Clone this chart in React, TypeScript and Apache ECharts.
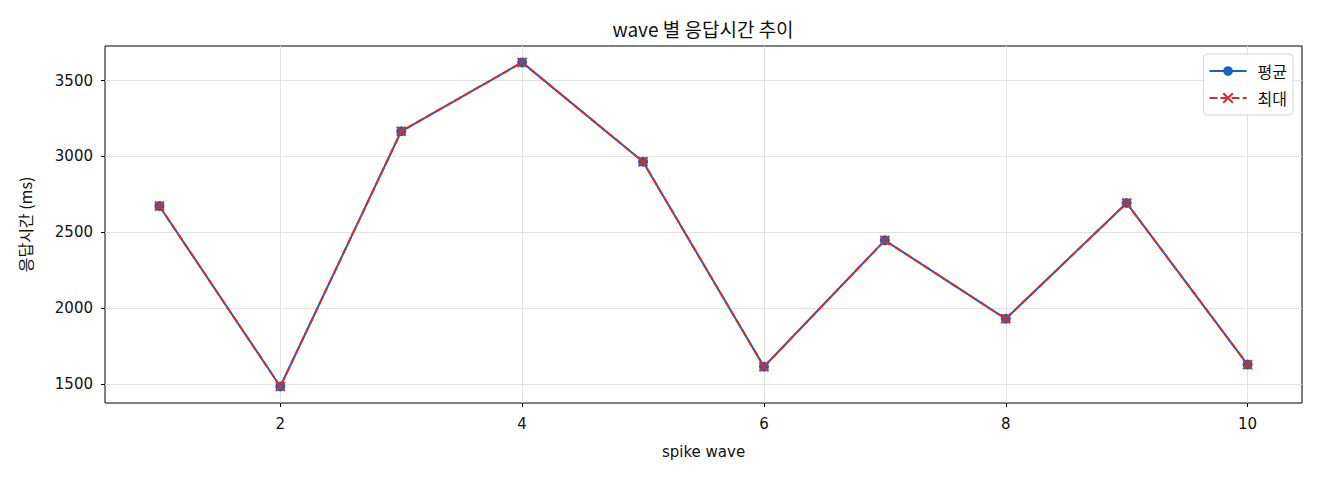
import React, { useEffect, useRef } from "react";
import * as echarts from "echarts";

const waves = [1, 2, 3, 4, 5, 6, 7, 8, 9, 10];
const avgMs = [2673, 1484, 3166, 3620, 2965, 1614, 2447, 1930, 2693, 1628];
const maxMs = [2673, 1484, 3166, 3620, 2965, 1614, 2447, 1930, 2693, 1628];
const xTicks = [2, 4, 6, 8, 10];
const yTicks = [1500, 2000, 2500, 3000, 3500];

const FONT = "'Noto Sans CJK KR', 'Noto Sans', sans-serif";
const TICK_FONT = "'DejaVu Sans', 'Noto Sans CJK KR', sans-serif";
const BLUE = "#1565C0";
const RED = "#D32F2F";

export default function App() {
  const ref = useRef<HTMLDivElement>(null);
  useEffect(() => {
    if (!ref.current) return;
    const chart = echarts.init(ref.current, null, { renderer: "svg" });
    const option: any = {
      animation: false,
      backgroundColor: "#fff",
      textStyle: { fontFamily: FONT },
      graphic: [
        {
          type: "text",
          x: 703,
          y: 28,
          style: {
            text: "wave 별 응답시간 추이",
            fontFamily: FONT,
            fontSize: 19,
            fill: "#111",
            textAlign: "center",
            textVerticalAlign: "middle",
          },
        },
      ],
      grid: {
        left: 105,
        right: 18,
        top: 46,
        bottom: 77,
        show: true,
        borderColor: "#000",
        borderWidth: 1,
        backgroundColor: "transparent",
      },
      legend: {
        orient: "vertical",
        right: 27,
        top: 54,
        itemWidth: 37,
        itemHeight: 12,
        itemGap: 9,
        padding: [8, 6, 8, 5],
        borderColor: "#d5d5d5",
        borderWidth: 1,
        borderRadius: 4,
        backgroundColor: "rgba(255,255,255,0.85)",
        textStyle: { fontFamily: FONT, fontSize: 16, lineHeight: 18, color: "#111", padding: [0, 0, 0, 6] },
        data: ["평균", "최대"],
      },
      xAxis: {
        type: "value",
        min: 0.55,
        max: 10.45,
        name: "spike wave",
        nameLocation: "middle",
        nameGap: 41,
        nameTextStyle: { fontFamily: TICK_FONT, fontSize: 15, color: "#111" },
        axisLine: { show: false },
        axisTick: { show: true, length: 4, customValues: xTicks, lineStyle: { color: "#000" } },
        axisLabel: {
          customValues: xTicks,
          fontFamily: TICK_FONT,
          fontSize: 15,
          color: "#111",
          margin: 13,
          formatter: (v: number) => String(v),
        },
        splitLine: { show: true, lineStyle: { color: "#e2e2e2", width: 1 } },
      },
      yAxis: {
        type: "value",
        min: 1375,
        max: 3728,
        name: "응답시간 (ms)",
        nameLocation: "middle",
        nameGap: 72,
        nameTextStyle: { fontFamily: FONT, fontSize: 16, color: "#111" },
        axisLine: { show: false },
        axisTick: { show: true, length: 4, customValues: yTicks, lineStyle: { color: "#000" } },
        axisLabel: {
          customValues: yTicks,
          fontFamily: TICK_FONT,
          fontSize: 15,
          color: "#111",
          margin: 12,
          formatter: (v: number) => String(v),
        },
        splitLine: { show: true, lineStyle: { color: "#e2e2e2", width: 1 } },
      },
      series: [
        {
          name: "평균",
          type: "line",
          data: waves.map((w, i) => [w, avgMs[i]]),
          symbol: "circle",
          symbolSize: 10,
          color: BLUE,
          itemStyle: { color: BLUE },
          lineStyle: { color: BLUE, width: 2 },
          z: 2,
        },
        {
          name: "최대",
          type: "line",
          data: waves.map((w, i) => [w, maxMs[i]]),
          symbol: "path://M0,0L10,10M10,0L0,10",
          symbolSize: 9,
          color: RED,
          itemStyle: { color: "none", borderColor: RED, borderWidth: 2 },
          lineStyle: { color: RED, width: 2, type: [8, 3] },
          z: 3,
        },
      ],
    };
    chart.setOption(option);
    return () => chart.dispose();
  }, []);
  return (
    <div
      ref={ref}
      style={{ position: "fixed", left: 0, top: 0, width: 1320, height: 480, background: "#fff" }}
    />
  );
}
